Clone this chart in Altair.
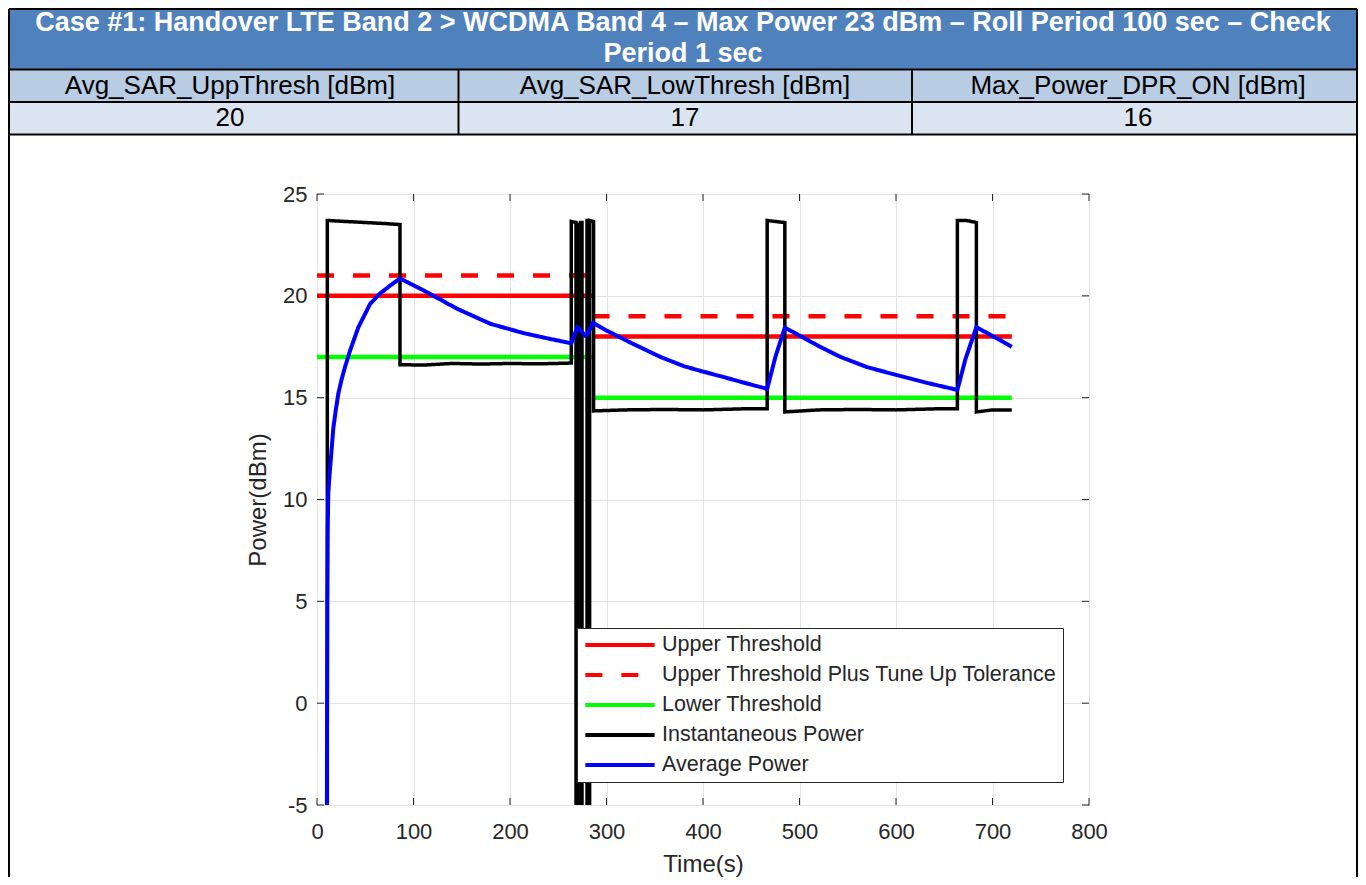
import altair as alt
import pandas as pd

FONT = "Liberation Sans"

# ---------------- table content ----------------
title_lines = [
    "Case #1: Handover LTE Band 2 > WCDMA Band 4 \u2013 Max Power 23 dBm \u2013 Roll Period 100 sec \u2013 Check",
    "Period 1 sec",
]
header_labels = ["Avg_SAR_UppThresh [dBm]", "Avg_SAR_LowThresh [dBm]", "Max_Power_DPR_ON [dBm]"]
header_values = ["20", "17", "16"]

# ---------------- chart data ----------------
series_names = [
    "Upper Threshold",
    "Upper Threshold Plus Tune Up Tolerance",
    "Lower Threshold",
    "Instantaneous Power",
    "Average Power",
]
series_colors = ["#ff0000", "#ff0000", "#00ff00", "#000000", "#0000ff"]
series_dash = [[1, 0], [17, 19], [1, 0], [1, 0], [1, 0]]

x_ticks = [0, 100, 200, 300, 400, 500, 600, 700, 800]
y_ticks = [-5, 0, 5, 10, 15, 20, 25]

thr_t = [0, 285, 285.5, 720]
thr_seg = ["a", "a", "b", "b"]
upper_v = [20, 20, 18, 18]
upper_plus_v = [21, 21, 19, 19]
lower_v = [17, 17, 15, 15]

inst_t = [10.7, 10.7, 30, 50, 70, 86.0,
          86.0, 110, 140, 170, 200, 230, 263.5,
          263.5, 268.4, 268.4, 269.9, 269.9, 271.5, 271.5, 273.0, 273.0, 274.6, 274.6,
          279.8, 279.8, 281.2, 281.2, 282.5, 282.5, 286.6, 286.6,
          320, 360, 400, 440, 466.5,
          466.5, 475, 484.8, 484.8, 520, 560, 600, 640, 663.6,
          663.6, 673, 683.3, 683.3, 700, 720]
inst_p = [-40, 23.7, 23.65, 23.6, 23.55, 23.5,
          16.62, 16.6, 16.68, 16.65, 16.68, 16.66, 16.7,
          23.65, 23.6, -40, -40, 23.5, 23.5, -40, -40, 23.6, 23.6, -40,
          -40, 23.7, 23.7, -40, -40, 23.7, 23.65, 14.35,
          14.4, 14.42, 14.4, 14.45, 14.45,
          23.7, 23.65, 23.6, 14.3, 14.4, 14.42, 14.4, 14.45, 14.45,
          23.7, 23.7, 23.6, 14.3, 14.4, 14.4]

avg_t = [10.0, 10.3, 10.7, 11.1, 11.7, 13.0, 14.2, 16.9, 19.5, 22.1, 25.5, 29.0, 34.2, 42.8,
         55.0, 65.0, 75.7, 86.0,
         110.3, 145.0, 179.5, 214.0, 240.0, 263.5, 269.7, 271.5, 277.7, 280.0, 286.0,
         300, 325, 355.4, 380, 397, 420, 438.3, 466.5, 475, 484.8,
         500, 520, 542, 570, 600.7, 630, 663.6, 672, 683.3, 700, 720]
avg_p = [-30, -3, 5, 8.5, 10.3, 11.2, 11.9, 13.5, 14.4, 15.2, 15.9, 16.5, 17.3, 18.45,
         19.6, 20.1, 20.5, 20.85,
         20.27, 19.37, 18.63, 18.17, 17.9, 17.67, 18.46, 18.4, 18.05, 18.1, 18.68,
         18.3, 17.7, 17.01, 16.55, 16.32, 16.03, 15.79, 15.43, 17.0, 18.44,
         18.05, 17.53, 17.01, 16.5, 16.11, 15.75, 15.38, 16.9, 18.46, 18.03, 17.5]

rows = []
for name, vals in [(series_names[0], upper_v), (series_names[1], upper_plus_v), (series_names[2], lower_v)]:
    for t, v, s in zip(thr_t, vals, thr_seg):
        rows.append({"t": t, "v": v, "seg": name + s, "series": name})
thr_df = pd.DataFrame(rows)
inst_df = pd.DataFrame({"t": inst_t, "v": inst_p, "i": list(range(len(inst_t))), "series": series_names[3]})
avg_df = pd.DataFrame({"t": avg_t, "v": avg_p, "series": series_names[4]})
xt_df = pd.DataFrame({"xt": x_ticks})
yt_df = pd.DataFrame({"yt": y_ticks})
one = pd.DataFrame({"k": [0]})

# ---------------- layout constants (pixels relative to the plot area) ----------------
W, H = 772, 611
L, R = -308, 1040
T_TOP, T_ROW1, T_ROW2, T_ROW3, BOTTOM = -185, -124.5, -92, -59.5, 683
COL1, COL2 = 141.5, 595
col_centers = [-87, 368, 821]

xscale = alt.Scale(domain=[0, 800], nice=False, zero=False)
yscale = alt.Scale(domain=[-5, 25], nice=False, zero=False)
xaxis = alt.Axis(values=x_ticks, title="Time(s)", labelExpr="'' + datum.value", grid=True,
                 labelFlush=False, labelOverlap=False, labelPadding=16, titlePadding=10,
                 labelFontSize=22, titleFontSize=24)
yaxis = alt.Axis(values=y_ticks, title="Power(dBm)", labelExpr="'' + datum.value", grid=True,
                 labelFlush=False, labelOverlap=False, labelPadding=10, titlePadding=12,
                 labelFontSize=22, titleFontSize=24)
legend = alt.Legend(title=None, orient="none", legendX=260, legendY=434,
                    symbolType="M-1,0L7,0", symbolSize=300, symbolStrokeWidth=4,
                    labelOffset=57, padding=6, strokeColor="#262626", fillColor="white",
                    rowPadding=8, labelFontSize=21.5, labelFont=FONT, labelColor="#262626",
                    labelLimit=800, cornerRadius=0)
color = alt.Color("series:N", scale=alt.Scale(domain=series_names, range=series_colors), legend=legend)
dash = alt.StrokeDash("series:N", scale=alt.Scale(domain=series_names, range=series_dash), legend=legend)


def rect(x1, x2, y1, y2, fill):
    return alt.Chart(one).mark_rect(color=fill).encode(
        x=alt.value(x1), x2=alt.value(x2), y=alt.value(y1), y2=alt.value(y2))


def hrule(y, x1, x2):
    return alt.Chart(one).mark_rule(color="black", strokeWidth=2).encode(
        x=alt.value(x1), x2=alt.value(x2), y=alt.value(y))


def vrule(x, y1, y2):
    return alt.Chart(one).mark_rule(color="black", strokeWidth=2).encode(
        x=alt.value(x), y=alt.value(y1), y2=alt.value(y2))


def text(s, x, y, size, color="black", weight="normal"):
    return alt.Chart(one).mark_text(font=FONT, fontSize=size, fontWeight=weight, color=color,
                                    align="center", baseline="middle").encode(
        x=alt.value(x), y=alt.value(y), text=alt.value(s))


table_layers = [
    rect(L, R, T_TOP, T_ROW1, "#4f81bd"),
    rect(L, R, T_ROW1, T_ROW2, "#b8cce4"),
    rect(L, R, T_ROW2, T_ROW3, "#dbe5f1"),
    hrule(T_TOP, L, R), hrule(T_ROW1, L, R), hrule(T_ROW2, L, R), hrule(T_ROW3, L, R),
    vrule(L, T_TOP, BOTTOM), vrule(R, T_TOP, BOTTOM),
    vrule(COL1, T_ROW1, T_ROW3), vrule(COL2, T_ROW1, T_ROW3),
    text(title_lines[0], 366, -171, 27, "white", "bold"),
    text(title_lines[1], 366, -140, 27, "white", "bold"),
]
for lab, val, xc in zip(header_labels, header_values, col_centers):
    table_layers.append(text(lab, xc, -108, 26))
    table_layers.append(text(val, xc, -76, 26))

tick_color = "#262626"
xticks_bottom = alt.Chart(xt_df).mark_rule(color=tick_color, strokeWidth=1).encode(
    x=alt.X("xt:Q", scale=xscale, axis=xaxis), y=alt.value(H), y2=alt.value(H - 7))
xticks_top = alt.Chart(xt_df).mark_rule(color=tick_color, strokeWidth=1).encode(
    x=alt.X("xt:Q", scale=xscale, axis=xaxis), y=alt.value(0), y2=alt.value(7))
yticks_left = alt.Chart(yt_df).mark_rule(color=tick_color, strokeWidth=1).encode(
    y=alt.Y("yt:Q", scale=yscale, axis=yaxis), x=alt.value(0), x2=alt.value(7))
yticks_right = alt.Chart(yt_df).mark_rule(color=tick_color, strokeWidth=1).encode(
    y=alt.Y("yt:Q", scale=yscale, axis=yaxis), x=alt.value(W), x2=alt.value(W - 7))

thr = alt.Chart(thr_df).mark_line(strokeWidth=4.5, clip=True).encode(
    x=alt.X("t:Q", scale=xscale, axis=xaxis),
    y=alt.Y("v:Q", scale=yscale, axis=yaxis),
    color=color, strokeDash=dash, detail="seg:N")
inst = alt.Chart(inst_df).mark_line(strokeWidth=3.5, clip=True).encode(
    x=alt.X("t:Q", scale=xscale, axis=xaxis),
    y=alt.Y("v:Q", scale=yscale, axis=yaxis),
    color=color, strokeDash=dash, order="i:Q")
avg = alt.Chart(avg_df).mark_line(strokeWidth=4, clip=True).encode(
    x=alt.X("t:Q", scale=xscale, axis=xaxis),
    y=alt.Y("v:Q", scale=yscale, axis=yaxis),
    color=color, strokeDash=dash)

chart = alt.layer(
    *table_layers, xticks_bottom, xticks_top, yticks_left, yticks_right, thr, inst, avg
).properties(
    width=W, height=H, padding=0, autosize=alt.AutoSizeParams(type="pad")
).configure_view(
    stroke="#262626", strokeWidth=1
).configure_axis(
    labelFont=FONT, titleFont=FONT, labelColor="#262626", titleColor="#262626",
    titleFontWeight="normal", gridColor="#e3e3e3", gridWidth=1, domain=False,
    ticks=False, tickSize=0
)

chart.save("out.html", embed_options={"renderer": "svg", "actions": False})
